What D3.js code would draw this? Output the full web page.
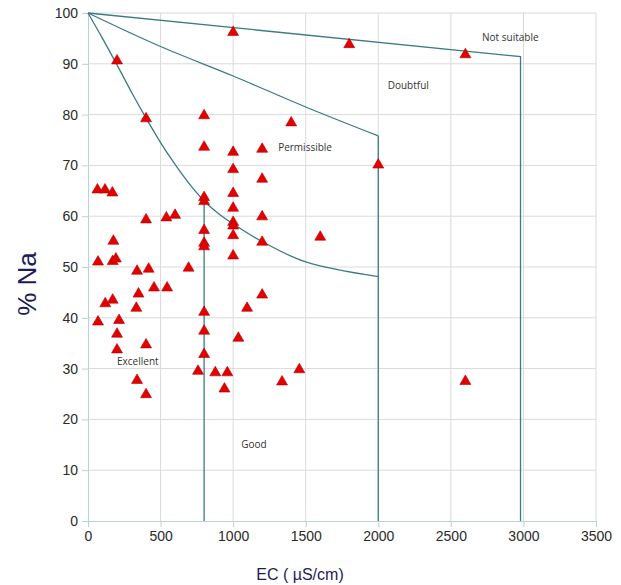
<!DOCTYPE html>
<html>
<head>
<meta charset="utf-8">
<script src="https://cdn.jsdelivr.net/npm/d3@7"></script>
<style>
  body { margin: 0; background: #fff; }
  .tick text { font-family: "Liberation Sans", Arial, sans-serif; font-size: 14px; fill: #2a2a2a; }
  .zone { font-family: "Open Sans", "Noto Sans", sans-serif; font-size: 10px; fill: #333; }
</style>
</head>
<body>
<svg id="chart" width="621" height="585"></svg>
<script>
// samples: EC (µS/cm) and %Na
const ec = [1000, 1800, 2600, 200, 800, 400, 1400, 800, 1000, 1200, 2000, 1000, 1200,
  65, 117, 168, 1000, 800, 800, 1000, 1200, 400, 540, 600, 1000, 1000, 800, 1000, 1600,
  175, 800, 800, 1200, 1000, 69, 170, 192, 338, 418, 693, 455, 545, 1200, 119, 170, 348,
  333, 1096, 800, 69, 214, 200, 800, 1036, 400, 200, 800, 758, 877, 960, 940, 1456, 1337,
  338, 400, 2600];
const na = [96.3, 93.9, 91.9, 90.7, 79.9, 79.3, 78.5, 73.7, 72.7, 73.3, 70.2, 69.3, 67.4,
  65.3, 65.3, 64.7, 64.6, 63.8, 63.0, 61.7, 60.0, 59.4, 59.8, 60.3, 58.9, 58.2, 57.3, 56.3, 56.0,
  55.2, 54.8, 54.1, 55.0, 52.3, 51.1, 51.2, 51.7, 49.3, 49.7, 49.9, 46.0, 46.0, 44.6, 42.9, 43.6, 44.8,
  42.0, 42.0, 41.2, 39.3, 39.6, 36.9, 37.5, 36.1, 34.8, 33.8, 32.9, 29.6, 29.3, 29.3, 26.1, 29.9, 27.5,
  27.8, 25.0, 27.6];

// Wilcox class boundaries
const notSuitableLine = [[0, 100], [2980, 91.4], [2980, 0]];
const doubtfulLine = [[0, 100], [500, 93.4], [1000, 87.6], [1500, 81.5], [2000, 75.8]];
const doubtfulDrop = [[2000, 75.8], [2000, 0]];
const permissibleLine = [[0, 100], [100, 95], [200, 89.8], [300, 84.4], [400, 79.3], [500, 74.5],
  [600, 70.2], [700, 66.3], [800, 63.0], [900, 60.5], [1000, 58.5], [1200, 55], [1500, 51],
  [2000, 48.1]];
const goodDrop = [[800, 63.0], [800, 0]];

const zoneLabels = ["Not suitable", "Doubtful", "Permissible", "Excellent", "Good"];
const zoneEC = [2715, 2065, 1310, 200, 1055];
const zoneNa = [95.2, 85.7, 73.5, 31.3, 15];

const xTicks = d3.range(0, 3501, 500);
const yTicks = d3.range(0, 101, 10);

const margin = {top: 13, right: 25, bottom: 64, left: 88};
const width = 621 - margin.left - margin.right;
const height = 585 - margin.top - margin.bottom;

const svg = d3.select('#chart');
const g = svg.append('g').attr('transform', `translate(${margin.left},${margin.top})`);

const x = d3.scaleLinear().domain([0, 3500]).range([0, width]);
const y = d3.scaleLinear().domain([0, 100]).range([height, 0]);

// grid
g.append('g').selectAll('line').data(yTicks.slice(1)).enter().append('line')
  .attr('x1', 0).attr('x2', width).attr('y1', d => y(d)).attr('y2', d => y(d))
  .attr('stroke', '#dadada');
g.append('g').selectAll('line').data(xTicks.slice(1)).enter().append('line')
  .attr('y1', 0).attr('y2', height).attr('x1', d => x(d)).attr('x2', d => x(d))
  .attr('stroke', '#dadada');

// axes
const xAxis = g.append('g').attr('transform', `translate(0,${height})`)
  .call(d3.axisBottom(x).tickValues(xTicks).tickSize(6).tickPadding(4).tickFormat(d3.format('d')));
const yAxis = g.append('g')
  .call(d3.axisLeft(y).tickValues(yTicks).tickSize(6).tickPadding(4));
[xAxis, yAxis].forEach(a => {
  a.select('.domain').attr('stroke', '#b9d3d3');
  a.selectAll('.tick line').attr('stroke', '#b9d3d3');
});

// boundaries
const line = d3.line().x(d => x(d[0])).y(d => y(d[1]));
const curve = d3.line().x(d => x(d[0])).y(d => y(d[1])).curve(d3.curveCatmullRom);
const teal = '#3a7c80';
[[notSuitableLine, line], [doubtfulLine, curve], [doubtfulDrop, line],
 [permissibleLine, curve], [goodDrop, line]].forEach(([pts, gen]) => {
  g.append('path').attr('d', gen(pts)).attr('fill', 'none')
    .attr('stroke', teal).attr('stroke-width', 1.3);
});

// zone labels
g.selectAll('.zone').data(zoneLabels).enter().append('text')
  .attr('class', 'zone')
  .attr('x', (d, i) => x(zoneEC[i]))
  .attr('y', (d, i) => y(zoneNa[i]))
  .attr('dy', '0.35em')
  .text(d => d);

// points
const tri = d3.symbol().type(d3.symbolTriangle).size(52);
g.append('g').selectAll('path').data(ec).enter().append('path')
  .attr('d', tri)
  .attr('transform', (d, i) => `translate(${x(d)},${y(na[i]) + 0.5})`)
  .attr('fill', '#e50000')
  .attr('stroke', '#b00000')
  .attr('stroke-width', 0.6);

// axis titles
svg.append('text')
  .attr('transform', `translate(36,${margin.top + height / 2 + 17}) rotate(-90)`)
  .attr('text-anchor', 'middle')
  .attr('font-family', '"Liberation Sans", Arial, sans-serif')
  .attr('font-size', 26)
  .attr('fill', '#1c1c5c')
  .text('% Na');
svg.append('text')
  .attr('x', 300).attr('y', 580)
  .attr('text-anchor', 'middle')
  .attr('font-family', '"Liberation Sans", Arial, sans-serif')
  .attr('font-size', 16)
  .attr('fill', '#1c1c5c')
  .text('EC ( µS/cm)');
</script>
</body>
</html>
